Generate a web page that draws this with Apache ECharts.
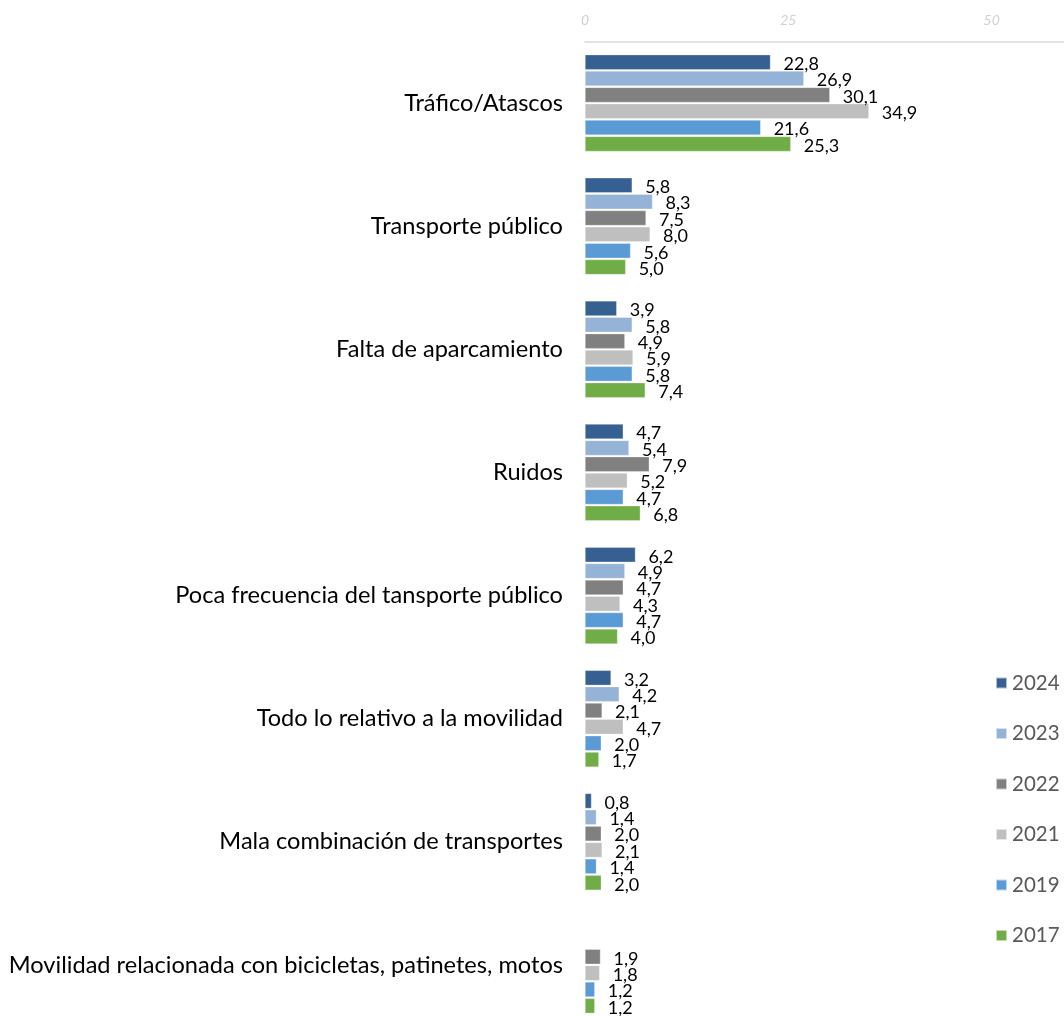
<!DOCTYPE html>
<html>
<head>
<meta charset="utf-8">
<script src="https://cdn.jsdelivr.net/npm/echarts@6/dist/echarts.min.js"></script>
<style>html,body{margin:0;padding:0;background:#fff;}#c{width:1064px;height:1016px;}</style>
</head>
<body>
<div id="c"></div>
<script>
const categories = [
  'Tráfico/Atascos',
  'Transporte público',
  'Falta de aparcamiento',
  'Ruidos',
  'Poca frecuencia del tansporte público',
  'Todo lo relativo a la movilidad',
  'Mala combinación de transportes',
  'Movilidad relacionada con bicicletas, patinetes, motos'
];
const seriesNames = ['2024', '2023', '2022', '2021', '2019', '2017'];
const v2024 = [22.8, 5.8, 3.9, 4.7, 6.2, 3.2, 0.8, null];
const v2023 = [26.9, 8.3, 5.8, 5.4, 4.9, 4.2, 1.4, null];
const v2022 = [30.1, 7.5, 4.9, 7.9, 4.7, 2.1, 2.0, 1.9];
const v2021 = [34.9, 8.0, 5.9, 5.2, 4.3, 4.7, 2.1, 1.8];
const v2019 = [21.6, 5.6, 5.8, 4.7, 4.7, 2.0, 1.4, 1.2];
const v2017 = [25.3, 5.0, 7.4, 6.8, 4.0, 1.7, 2.0, 1.2];
const allValues = [v2024, v2023, v2022, v2021, v2019, v2017];
const colors = ['#366092', '#95B3D7', '#808080', '#BFBFBF', '#5B9BD5', '#70AD47'];

const chart = echarts.init(document.getElementById('c'));
const series = seriesNames.map((name, i) => ({
  name: name,
  type: 'bar',
  data: allValues[i],
  barWidth: 15,
  barGap: '9%',
  itemStyle: { color: colors[i], borderColor: 'rgba(255,255,255,0.6)', borderWidth: 0.5 },
  label: {
    show: true,
    position: 'right',
    distance: 13,
    offset: [0, 2],
    color: '#000',
    fontFamily: 'Lato',
    fontSize: 18,
    formatter: p => (p.value == null ? '' : Number(p.value).toFixed(1).replace('.', ','))
  }
}));

chart.setOption({
  animation: false,
  backgroundColor: '#fff',
  textStyle: { fontFamily: 'Lato' },
  grid: { left: 585, right: -9, top: 41.5, bottom: -10.5, containLabel: false, outerBoundsMode: 'none' },
  legend: {
    orient: 'vertical',
    left: 990,
    top: 667,
    padding: 5,
    itemWidth: 11,
    itemHeight: 11,
    itemGap: 28.5,
    icon: 'rect',
    data: seriesNames,
    textStyle: { fontFamily: 'Lato', fontSize: 20.5, color: '#595959', lineHeight: 22 }
  },
  xAxis: {
    type: 'value',
    position: 'top',
    min: 0,
    max: 60,
    interval: 25,
    axisLine: { show: true, lineStyle: { color: '#D9D9D9', width: 1.5 } },
    axisTick: { show: false },
    splitLine: { show: false },
    axisLabel: {
      color: '#D0D0D0',
      fontStyle: 'italic',
      fontFamily: 'Lato',
      fontSize: 14,
      margin: 14,
      formatter: v => (v % 25 === 0 ? String(v) : '')
    }
  },
  yAxis: {
    type: 'category',
    inverse: true,
    data: categories,
    axisLine: { show: false },
    axisTick: { show: false },
    axisLabel: { color: '#000', fontFamily: 'Lato', fontSize: 23.6, margin: 22 }
  },
  series: series
});
</script>
</body>
</html>
